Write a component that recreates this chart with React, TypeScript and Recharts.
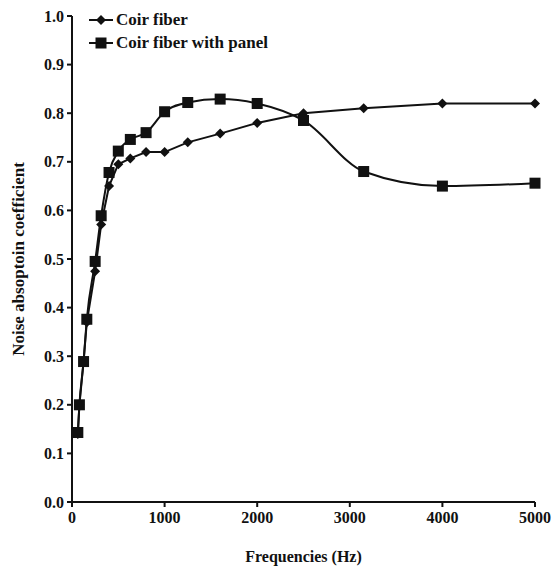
import React from "react";
import { Label, Line, LineChart, XAxis, YAxis } from "recharts";

const frequencies = [
  63, 80, 125, 160, 250, 315, 400, 500, 630, 800, 1000, 1250, 1600, 2000,
  2500, 3150, 4000, 5000,
];

const coirFiber = [
  0.14, 0.2, 0.29, 0.37, 0.475, 0.571, 0.65, 0.695, 0.707, 0.72, 0.72, 0.74,
  0.758, 0.78, 0.8, 0.81, 0.82, 0.82,
];

const coirFiberPanel = [
  0.143, 0.2, 0.289, 0.376, 0.495, 0.589, 0.678, 0.722, 0.746, 0.76, 0.803,
  0.822, 0.829, 0.82, 0.785, 0.68, 0.65, 0.656,
];

const seriesNames = ["Coir fiber", "Coir fiber with panel"];

const xTicks = [0, 1000, 2000, 3000, 4000, 5000];
const yTicks = [0, 0.1, 0.2, 0.3, 0.4, 0.5, 0.6, 0.7, 0.8, 0.9, 1.0];

const data = frequencies.map((f, i) => ({
  freq: f,
  coir: coirFiber[i],
  panel: coirFiberPanel[i],
}));

const FONT = "Liberation Serif";
const INK = "#111";
const textStyle = {
  fill: INK,
  fontFamily: FONT,
  fontSize: 16,
  fontWeight: "bold" as const,
};

function Diamond(props: any) {
  const { cx, cy } = props;
  if (cx == null || cy == null) return null;
  const r = 5;
  return (
    <path
      d={`M${cx},${cy - r}L${cx + r},${cy}L${cx},${cy + r}L${cx - r},${cy}Z`}
      fill={INK}
    />
  );
}

function Square(props: any) {
  const { cx, cy } = props;
  if (cx == null || cy == null) return null;
  const s = 5.5;
  return <rect x={cx - s} y={cy - s} width={s * 2} height={s * 2} fill={INK} />;
}

// legend drawn over the chart so it takes no room from the plot
function LegendBox() {
  const markers = [Diamond, Square];
  return (
    <svg
      width={260}
      height={56}
      style={{ position: "absolute", left: 87, top: 8, overflow: "visible" }}
    >
      {seriesNames.map((name, i) => {
        const y = 12 + i * 23;
        const Marker = markers[i];
        return (
          <g key={name}>
            <line x1={2} x2={26} y1={y} y2={y} stroke={INK} strokeWidth={2} />
            <Marker cx={14} cy={y} />
            <text
              x={29}
              y={y + 5}
              fontFamily={FONT}
              fontSize={17}
              fontWeight="bold"
              fill={INK}
            >
              {name}
            </text>
          </g>
        );
      })}
    </svg>
  );
}

export default function App() {
  return (
    <div
      style={{
        position: "absolute",
        left: 0,
        top: 0,
        width: 556,
        height: 566,
        background: "#fff",
        fontFamily: FONT,
      }}
    >
      <LineChart
        width={556}
        height={566}
        data={data}
        margin={{ top: 16, right: 21, left: 0, bottom: 0 }}
        style={{ fontFamily: FONT }}
      >
        <XAxis
          dataKey="freq"
          type="number"
          domain={[0, 5000]}
          ticks={xTicks}
          height={64}
          axisLine={{ stroke: INK, strokeWidth: 2 }}
          tickLine={{ stroke: INK, strokeWidth: 2 }}
          tickSize={5}
          tickMargin={5}
          tick={textStyle}
        >
          <Label
            value="Frequencies (Hz)"
            position="insideBottom"
            offset={4}
            fontFamily={FONT}
            fontSize={16}
            fontWeight="bold"
            fill={INK}
          />
        </XAxis>
        <YAxis
          type="number"
          domain={[0, 1]}
          ticks={yTicks}
          width={72}
          axisLine={{ stroke: INK, strokeWidth: 2 }}
          tickLine={{ stroke: INK, strokeWidth: 2 }}
          tickSize={5}
          tickMargin={3}
          tickFormatter={(v: number) => v.toFixed(1)}
          tick={textStyle}
        >
          <Label
            value="Noise absoptoin coefficient"
            angle={-90}
            position="center"
            dx={-18}
            fontFamily={FONT}
            fontSize={17}
            fontWeight="bold"
            fill={INK}
            textAnchor="middle"
          />
        </YAxis>
        <Line
          dataKey="coir"
          name={seriesNames[0]}
          type="linear"
          stroke={INK}
          strokeWidth={2}
          dot={(p: any) => <Diamond key={`d${p.index}`} {...p} />}
          isAnimationActive={false}
        />
        <Line
          dataKey="panel"
          name={seriesNames[1]}
          type="monotone"
          stroke={INK}
          strokeWidth={2}
          dot={(p: any) => <Square key={`s${p.index}`} {...p} />}
          isAnimationActive={false}
        />
      </LineChart>
      <LegendBox />
    </div>
  );
}
